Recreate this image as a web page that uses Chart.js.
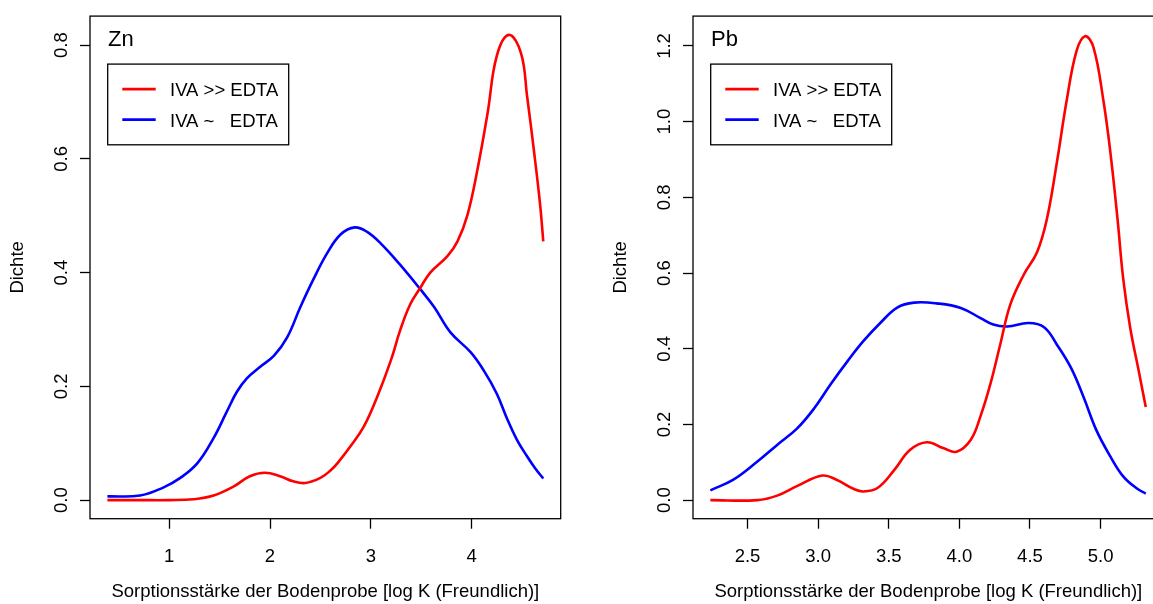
<!DOCTYPE html>
<html>
<head>
  <meta charset="utf-8">
  <title>Dichte der Sorptionsstärke</title>
  <script src="https://cdn.jsdelivr.net/npm/chart.js@4.4.0/dist/chart.umd.min.js"></script>

  <style>
    html, body {
      margin: 0;
      padding: 0;
      background: #fff;
      overflow: hidden;
      width: 1153px;
      height: 604px;
    }
    .panel {
      position: absolute;
      top: 0;
    }
    #znPanel { left: 0; }
    #pbPanel { left: 603px; }
  </style>
</head>
<body>

<canvas id="znPanel" class="panel" width="576" height="604"></canvas>
<canvas id="pbPanel" class="panel" width="576" height="604"></canvas>

<script>
  // series names (red = IVA >> EDTA, blue = IVA ~ EDTA)
  const seriesLabels = ['IVA >> EDTA', 'IVA ~   EDTA'];
  const seriesColors = ['#ff0000', '#0000ff'];

  // Zn: density curves
  const znStrongX = [0.387, 0.70, 1.00, 1.24, 1.44, 1.64, 1.80, 1.95, 2.10, 2.23, 2.35, 2.50, 2.60, 2.67, 2.80, 2.93,
                     3.06, 3.20, 3.29, 3.39, 3.49, 3.59, 3.76, 3.86, 3.96, 4.06, 4.16, 4.25, 4.37, 4.49, 4.55, 4.62, 4.68, 4.711];
  const znStrongY = [0.000, 0.000, 0.000, 0.0015, 0.008, 0.024, 0.042, 0.048, 0.042, 0.033, 0.030, 0.039, 0.052, 0.065, 0.095, 0.129,
                     0.180, 0.246, 0.298, 0.344, 0.373, 0.400, 0.429, 0.455, 0.502, 0.583, 0.682, 0.781, 0.818, 0.786, 0.711, 0.612, 0.519, 0.455];
  const znEqualX = [0.387, 0.71, 0.94, 1.11, 1.28, 1.44, 1.57, 1.67, 1.77, 1.90, 2.04, 2.17, 2.30, 2.43, 2.57, 2.70,
                    2.84, 2.96, 3.10, 3.29, 3.49, 3.63, 3.79, 3.99, 4.12, 4.25, 4.35, 4.45, 4.55, 4.63, 4.711];
  const znEqualY = [0.0065, 0.008, 0.022, 0.039, 0.065, 0.109, 0.155, 0.190, 0.214, 0.234, 0.254, 0.286, 0.339, 0.388, 0.435, 0.467,
                    0.4795, 0.472, 0.451, 0.414, 0.371, 0.339, 0.295, 0.260, 0.228, 0.187, 0.144, 0.106, 0.077, 0.056, 0.038];

  // Pb: density curves
  const pbStrongX = [2.237, 2.57, 2.71, 2.85, 3.03, 3.13, 3.25, 3.32, 3.42, 3.54, 3.65, 3.77, 3.89, 3.98, 4.08, 4.15, 4.22,
                     4.29, 4.36, 4.455, 4.55, 4.62, 4.69, 4.76, 4.83, 4.89, 4.95, 5.02, 5.07, 5.12, 5.16, 5.21, 5.27, 5.32];
  const pbStrongY = [0.000, 0.000, 0.012, 0.037, 0.065, 0.054, 0.030, 0.023, 0.032, 0.080, 0.1325, 0.153, 0.137, 0.128, 0.159, 0.222, 0.307,
                     0.412, 0.516, 0.595, 0.655, 0.743, 0.891, 1.056, 1.187, 1.226, 1.196, 1.056, 0.917, 0.743, 0.586, 0.455, 0.342, 0.246];
  const pbEqualX = [2.237, 2.40, 2.57, 2.71, 2.85, 2.97, 3.09, 3.21, 3.32, 3.44, 3.56, 3.68, 3.84, 4.01, 4.15, 4.24,
                    4.34, 4.49, 4.60, 4.69, 4.79, 4.88, 4.97, 5.07, 5.16, 5.26, 5.32];
  const pbEqualY = [0.026, 0.054, 0.102, 0.146, 0.189, 0.2415, 0.307, 0.368, 0.420, 0.468, 0.509, 0.522, 0.520, 0.508, 0.481, 0.464,
                    0.459, 0.468, 0.457, 0.4115, 0.350, 0.272, 0.185, 0.115, 0.063, 0.030, 0.0175];

  // tick positions
  const znXTicks = [1, 2, 3, 4];
  const znYTicks = [0, 0.2, 0.4, 0.6, 0.8];
  const pbXTicks = [2.5, 3.0, 3.5, 4.0, 4.5, 5.0];
  const pbYTicks = [0, 0.2, 0.4, 0.6, 0.8, 1.0, 1.2];

  const xTitle = 'Sorptionsstärke der Bodenprobe [log K (Freundlich)]';
  const yTitle = 'Dichte';

  const fontFamily = "'Liberation Sans', Arial, Helvetica, sans-serif";
  const textFont = { family: fontFamily, size: 18.5 };

  function toPoints(xs, ys) {
    return xs.map((x, i) => ({ x: x, y: ys[i] }));
  }

  // frame, element name and legend box inside the plot area
  const panelDecor = {
    id: 'panelDecor',
    afterDatasetsDraw(chart, args, opts) {
      const ctx = chart.ctx;
      const a = chart.chartArea;
      ctx.save();

      ctx.strokeStyle = '#000';
      ctx.lineWidth = 1.3;
      ctx.strokeRect(a.left, a.top, a.right - a.left, a.bottom - a.top);

      ctx.fillStyle = '#000';
      ctx.textAlign = 'left';
      ctx.textBaseline = 'alphabetic';
      ctx.font = '22px ' + fontFamily;
      ctx.fillText(opts.name, a.left + 18, a.top + 30);

      const bx = a.left + 17.7, by = a.top + 48;
      ctx.lineWidth = 1.3;
      ctx.strokeRect(bx, by, 181, 80.7);

      ctx.font = '18.5px ' + fontFamily;
      ctx.textBaseline = 'middle';
      const rows = [a.top + 73, a.top + 103.5];
      chart.data.datasets.forEach((ds, i) => {
        ctx.strokeStyle = ds.borderColor;
        ctx.lineWidth = 2.6;
        ctx.beginPath();
        ctx.moveTo(a.left + 32.3, rows[i]);
        ctx.lineTo(a.left + 65.7, rows[i]);
        ctx.stroke();
        ctx.fillStyle = '#000';
        ctx.fillText(ds.label, a.left + 80, rows[i] + 2);
      });

      ctx.restore();
    }
  };

  function makePanel(canvasId, name, strong, equal, xRange, yRange, xTicks, yTicks, xDigits) {
    return new Chart(document.getElementById(canvasId), {
      type: 'line',
      data: {
        datasets: [strong, equal].map((pts, i) => ({
          label: seriesLabels[i],
          data: pts,
          borderColor: seriesColors[i],
          borderWidth: 2.6,
          pointRadius: 0,
          fill: false,
          tension: 0.4
        }))
      },
      options: {
        responsive: false,
        animation: false,
        events: [],
        layout: { padding: { top: 13, right: 15.3, left: 0, bottom: 0 } },
        plugins: {
          legend: { display: false },
          tooltip: { enabled: false },
          panelDecor: { name: name }
        },
        scales: {
          x: {
            type: 'linear',
            min: xRange[0],
            max: xRange[1],
            afterBuildTicks: s => { s.ticks = xTicks.map(v => ({ value: v })); },
            afterFit: s => { s.height = 85.3; },
            border: { display: false },
            grid: {
              display: true, drawOnChartArea: false, drawTicks: true,
              tickLength: 10, tickColor: '#000', tickWidth: 1.3
            },
            ticks: {
              color: '#000', font: textFont, padding: 17, autoSkip: false,
              maxRotation: 0, minRotation: 0,
              callback: v => v.toFixed(xDigits)
            },
            title: {
              display: true, text: xTitle, color: '#000', font: textFont,
              padding: { top: 0, bottom: 1 }
            }
          },
          y: {
            type: 'linear',
            min: yRange[0],
            max: yRange[1],
            afterBuildTicks: s => { s.ticks = yTicks.map(v => ({ value: v })); },
            afterFit: s => { s.width = 90; },
            border: { display: false },
            grid: {
              display: true, drawOnChartArea: false, drawTicks: true,
              tickLength: 10, tickColor: '#000', tickWidth: 1.3
            },
            ticks: {
              color: '#000', font: textFont, padding: 5, autoSkip: false,
              minRotation: 90, maxRotation: 90, crossAlign: 'center',
              callback: v => v.toFixed(1)
            },
            title: {
              display: true, text: yTitle, color: '#000', font: textFont,
              padding: { top: 7, bottom: 0 }
            }
          }
        }
      },
      plugins: [panelDecor]
    });
  }

  makePanel('znPanel', 'Zn', toPoints(znStrongX, znStrongY), toPoints(znEqualX, znEqualY),
            [0.214, 4.884], [-0.0327, 0.851], znXTicks, znYTicks, 0);
  makePanel('pbPanel', 'Pb', toPoints(pbStrongX, pbStrongY), toPoints(pbEqualX, pbEqualY),
            [2.114, 5.447], [-0.049, 1.279], pbXTicks, pbYTicks, 1);
</script>

</body>
</html>
